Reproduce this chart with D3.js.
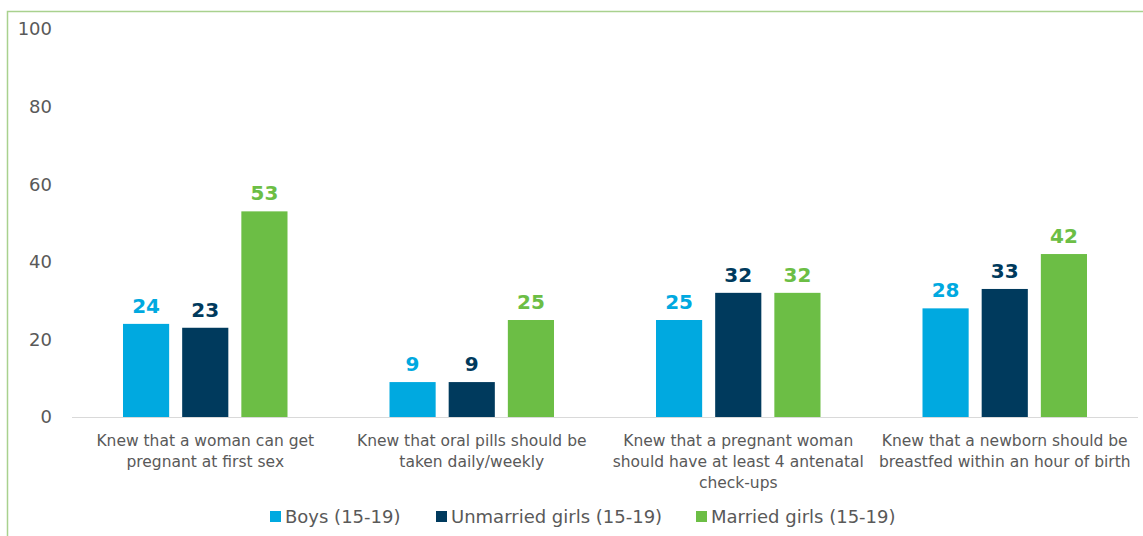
<!DOCTYPE html>
<html>
<head>
<meta charset="utf-8">
<script src="https://cdn.jsdelivr.net/npm/d3@7"></script>
<style>
  body { margin: 0; background: #fff; }
  svg { font-family: "DejaVu Sans", sans-serif; }
</style>
</head>
<body>
<svg id="chart"></svg>
<script>
const categories = [
  ["Knew that a woman can get", "pregnant at first sex"],
  ["Knew that oral pills should be", "taken daily/weekly"],
  ["Knew that a pregnant woman", "should have at least 4 antenatal", "check-ups"],
  ["Knew that a newborn should be", "breastfed within an hour of birth"]
];
const seriesNames = ["Boys (15-19)", "Unmarried girls (15-19)", "Married girls (15-19)"];
const boys = [24, 9, 25, 28];
const unmarried = [23, 9, 32, 33];
const married = [53, 25, 32, 42];
const yTicks = [0, 20, 40, 60, 80, 100];

const width = 1143, height = 536;
const colors = ["#00a9e0", "#003a5d", "#6cbe45"];
const series = [boys, unmarried, married];

const svg = d3.select("#chart").attr("width", width).attr("height", height);

// outer frame
svg.append("rect")
  .attr("x", 7.5).attr("y", 11.5)
  .attr("width", width + 10).attr("height", height)
  .attr("fill", "none").attr("stroke", "#a9d18e").attr("stroke-width", 1.5);

const x0 = d3.scaleBand().domain(d3.range(categories.length)).range([72, 1138]);
const x1 = d3.scaleBand().domain(d3.range(series.length)).range([51, x0.bandwidth() - 51]).paddingInner(0.22);
const y = d3.scaleLinear().domain([0, 100]).range([417, 29]);

// y axis labels
svg.append("g").selectAll("text").data(yTicks).enter().append("text")
  .attr("x", 52).attr("y", d => y(d)).attr("dy", "0.36em")
  .attr("text-anchor", "end").attr("font-size", 18).attr("fill", "#595959")
  .text(d => d);

// baseline
svg.append("line")
  .attr("x1", 72).attr("x2", 1138).attr("y1", y(0) + 0.5).attr("y2", y(0) + 0.5)
  .attr("stroke", "#d9d9d9").attr("stroke-width", 1);

const groups = svg.append("g").selectAll("g").data(categories).enter().append("g")
  .attr("transform", (d, i) => `translate(${x0(i)},0)`);

groups.each(function (c, i) {
  const g = d3.select(this);
  series.forEach((s, j) => {
    g.append("rect")
      .attr("x", x1(j)).attr("y", y(s[i]))
      .attr("width", x1.bandwidth()).attr("height", y(0) - y(s[i]))
      .attr("fill", colors[j]);
    g.append("text")
      .attr("x", x1(j) + x1.bandwidth() / 2).attr("y", y(s[i]) - 11)
      .attr("text-anchor", "middle").attr("font-size", 20).attr("font-weight", "bold")
      .attr("fill", colors[j]).text(s[i]);
  });
  g.append("text")
    .attr("text-anchor", "middle").attr("font-size", 15.5).attr("fill", "#595959")
    .selectAll("tspan").data(c).enter().append("tspan")
    .attr("x", x0.bandwidth() / 2).attr("y", (d, k) => 446 + k * 21)
    .text(d => d);
});

// legend
const legendX = [270, 436, 696];
const legend = svg.append("g").selectAll("g").data(seriesNames).enter().append("g")
  .attr("transform", (d, i) => `translate(${legendX[i]},511)`);
legend.append("rect").attr("width", 11).attr("height", 11).attr("fill", (d, i) => colors[i]);
legend.append("text").attr("x", 15).attr("y", 6).attr("dy", "0.36em")
  .attr("font-size", 18).attr("fill", "#595959").text(d => d);
</script>
</body>
</html>
